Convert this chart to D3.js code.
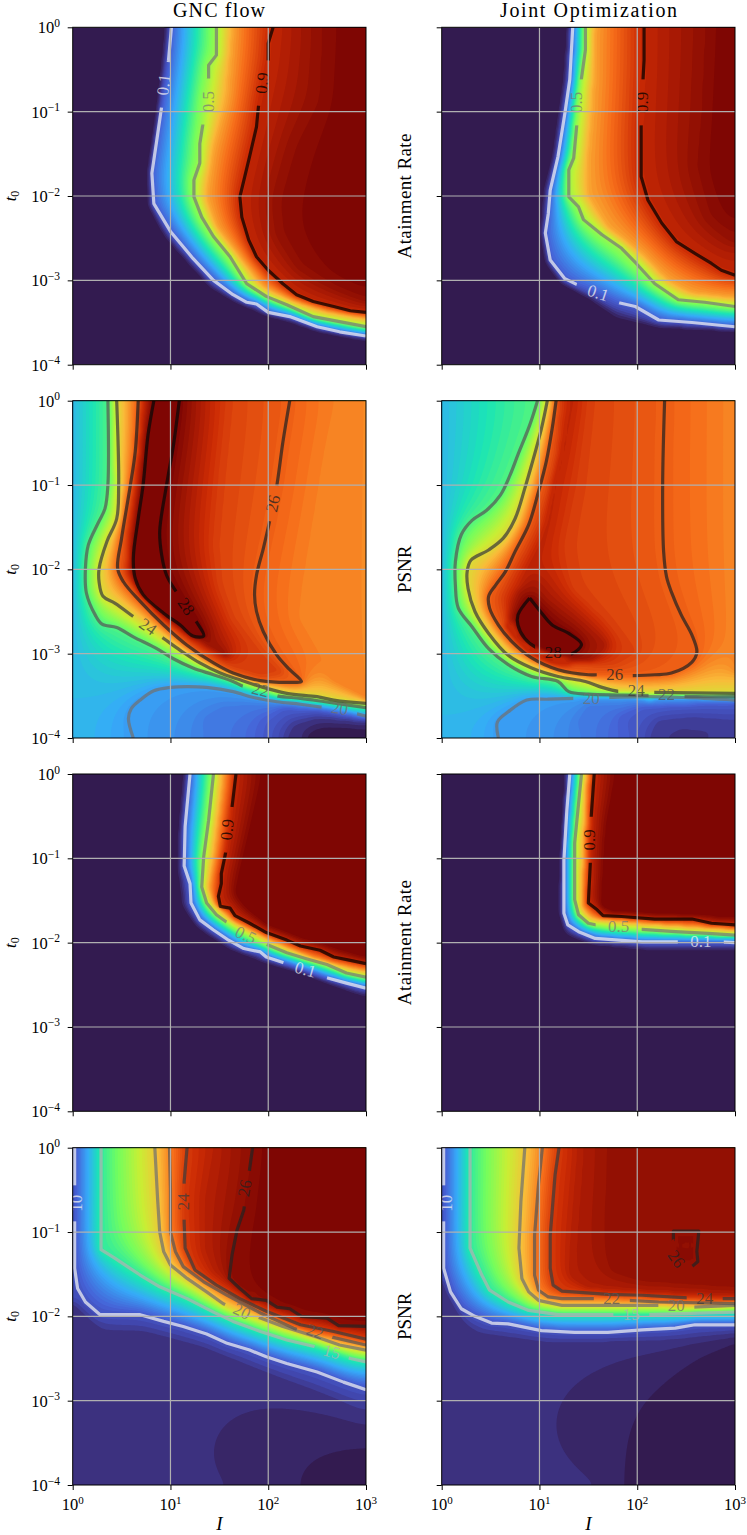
<!DOCTYPE html>
<html><head><meta charset="utf-8">
<script src="https://cdn.jsdelivr.net/npm/d3@7"></script>
<style>html,body{margin:0;padding:0;background:#fff;overflow:hidden}svg{display:block}text{font-family:"Liberation Serif",serif}</style>
</head><body><div id="chart"></div>
<script>
// ---------- values: exponents [log10 I, log10 t0] along each contour ----------
const columnTitles = ["GNC flow", "Joint Optimization"];
const rowMetrics = ["Atainment Rate", "PSNR", "Atainment Rate", "PSNR"];
const xTickExponents = [0, 1, 2, 3];
const yTickExponents = [0, -1, -2, -3, -4];
const turboStops = [0, 0.03, 0.06, 0.111, 0.222, 0.333, 0.444, 0.556, 0.667, 0.778, 0.889, 1];
const turboColors = ["#311644","#3b2d76","#4146ac","#4662d7","#36aaf9","#1ae4b6","#72fe5e","#c8ef34","#faba39","#f66b19","#cb2a04","#7a0403"];
const attainRange = [0, 1];
const psnrTopRange = [18, 28];
const psnrBottomRange = [8.5, 26.5];

const attainGncA = [
 [0.1,[[1.01,0],[.98,-.39],[.91,-.94],[.86,-1.34],[.81,-1.73],[.83,-2.09],[1,-2.42],[1.23,-2.74],[1.44,-3],[1.64,-3.17],[1.78,-3.26],[1.88,-3.28],[2,-3.38],[2.22,-3.43],[2.5,-3.55],[2.73,-3.61],[3,-3.66]]],
 [0.5,[[1.47,0],[1.47,-.33],[1.39,-.45],[1.39,-.6],[1.35,-.86],[1.33,-1.16],[1.3,-1.38],[1.3,-1.61],[1.24,-1.81],[1.24,-2.01],[1.32,-2.25],[1.44,-2.48],[1.61,-2.72],[1.78,-3.04],[1.98,-3.19],[2.19,-3.29],[2.46,-3.43],[2.73,-3.49],[3,-3.55]]],
 [0.9,[[2.05,0],[2,-.19],[2,-.39],[1.95,-.66],[1.9,-.94],[1.88,-1.18],[1.81,-1.53],[1.76,-1.77],[1.71,-2.01],[1.73,-2.25],[1.8,-2.52],[1.88,-2.72],[2,-2.88],[2.15,-3.04],[2.29,-3.17],[2.46,-3.25],[2.67,-3.31],[2.84,-3.36],[3,-3.38]]]
];
const attainGncAFill = [
 [0,[[.94,0],[.86,-.94],[.76,-1.73],[.77,-2.13],[.93,-2.48],[1.2,-2.84],[1.4,-3.09],[1.64,-3.25],[1.95,-3.41],[2.22,-3.5],[2.5,-3.61],[3,-3.72]]],
 [0.7,[[1.64,0],[1.58,-.86],[1.44,-1.45],[1.37,-2.01],[1.47,-2.36],[1.71,-2.72],[1.95,-3.08],[2.26,-3.25],[2.6,-3.37],[3,-3.45]]],
 [0.97,[[2.53,0],[2.5,-.86],[2.26,-1.38],[2.09,-2.05],[2.12,-2.44],[2.33,-2.84],[2.67,-3.07],[3,-3.23]]],
 [1,[[2.85,0],[2.8,-1],[2.6,-1.8],[2.5,-2.3],[2.7,-2.8],[3,-3]]]
];
const attainGncALabels = [[0.1,"0.1",.93,-.68,-83],[0.5,"0.5",1.39,-.88,-90],[0.9,"0.9",1.94,-.66,-84]];

const attainJointA = [
 [0.1,[[1.34,0],[1.31,-.62],[1.26,-1.02],[1.19,-1.53],[1.11,-1.93],[1.09,-2.21],[1.06,-2.44],[1.11,-2.76],[1.26,-2.98],[1.4,-3.06],[1.6,-3.15],[1.79,-3.26],[1.98,-3.31],[2.22,-3.47],[2.56,-3.5],[3,-3.55]]],
 [0.5,[[1.47,0],[1.47,-.27],[1.43,-.6],[1.4,-.9],[1.38,-1.18],[1.35,-1.55],[1.3,-1.69],[1.3,-2.01],[1.4,-2.13],[1.45,-2.28],[1.64,-2.46],[1.84,-2.62],[1.99,-2.8],[2.18,-3.04],[2.42,-3.23],[2.69,-3.26],[3,-3.31]]],
 [0.9,[[2.07,0],[2.07,-.39],[2.06,-.6],[2.05,-.9],[2.04,-1.18],[2.04,-1.77],[2.11,-2.05],[2.25,-2.32],[2.4,-2.54],[2.59,-2.68],[2.76,-2.8],[2.86,-2.88],[3,-2.94]]]
];
const attainJointAFill = [
 [0,[[1.28,0],[1.24,-.62],[1.19,-1.02],[1.13,-1.53],[1.04,-1.93],[1.01,-2.44],[1.06,-2.8],[1.21,-3.04],[1.5,-3.23],[1.77,-3.47],[2.22,-3.57],[3,-3.61]]],
 [0.7,[[1.57,0],[1.55,-.86],[1.5,-1.57],[1.5,-1.97],[1.7,-2.36],[2.05,-2.68],[2.32,-3],[2.56,-3.15],[3,-3.21]]],
 [0.97,[[2.68,0],[2.64,-1.02],[2.59,-1.65],[2.73,-2.25],[3,-2.52]]],
 [1,[[2.92,0],[2.88,-1],[2.85,-1.7],[3,-2.2]]]
];
const attainJointALabels = [[0.5,"0.5",1.38,-.89,-90],[0.9,"0.9",2.05,-.89,-90],[0.1,"0.1",1.6,-3.15,18]];

const psnrGncA = [
 [20,[[.62,-4],[.57,-3.77],[.6,-3.65],[.69,-3.55],[.83,-3.44],[1,-3.4],[1.17,-3.39],[1.37,-3.4],[1.64,-3.45],[1.85,-3.52],[2.09,-3.57],[2.33,-3.6],[2.58,-3.64],[2.73,-3.67],[3,-3.74]]],
 [22,[[.36,0],[.36,-1],[.33,-1.28],[.26,-1.45],[.16,-1.71],[.13,-1.99],[.14,-2.28],[.23,-2.54],[.3,-2.65],[.45,-2.69],[.62,-2.8],[.86,-2.94],[1.03,-3.06],[1.23,-3.17],[1.44,-3.25],[1.64,-3.33],[1.75,-3.39],[1.92,-3.44],[2.09,-3.5],[2.33,-3.53],[2.58,-3.57],[3,-3.64]]],
 [24,[[.45,0],[.47,-1],[.45,-1.4],[.35,-1.67],[.27,-1.99],[.27,-2.15],[.31,-2.32],[.43,-2.4],[.62,-2.56],[.77,-2.69],[.93,-2.82],[1.1,-2.96],[1.3,-3.11],[1.51,-3.23],[1.71,-3.31],[1.92,-3.39],[2.19,-3.47],[2.5,-3.51],[2.67,-3.55],[3,-3.59]]],
 [26,[[2.22,0],[2.15,-.49],[2.09,-.99],[2.05,-1.22],[2.01,-1.45],[1.95,-1.75],[1.88,-2.07],[1.86,-2.3],[1.88,-2.5],[1.95,-2.74],[2.09,-3.02],[2.22,-3.19],[2.34,-3.33],[2.26,-3.34],[1.92,-3.32],[1.64,-3.23],[1.44,-3.11],[1.17,-2.9],[.93,-2.66],[.69,-2.38],[.52,-2.15],[.46,-1.99],[.5,-1.63],[.59,-1],[.64,-.6],[.67,0]]],
 [28,[[.83,0],[.77,-.41],[.72,-1],[.67,-1.4],[.62,-1.87],[.64,-2.11],[.72,-2.3],[.93,-2.52],[1.1,-2.66],[1.23,-2.79],[1.34,-2.79],[1.27,-2.63],[1.16,-2.44],[1.05,-2.25],[.96,-2.07],[.91,-1.83],[.89,-1.55],[.96,-1],[1.03,-.53],[1.09,0]]]
];
const psnrGncAFill = [
 [20.5,[[0,0],[0,-4]]],
 [25.35,[[3,0],[3,-3.55]]],
 [25.5,[[2.67,0],[2.56,-.6],[2.33,-2.2],[2.29,-2.58],[2.67,-3.3],[3,-3.52]]],
 [26.5,[[1.61,0],[1.54,-.8],[1.47,-1.71],[1.51,-2.19],[1.64,-2.58],[1.92,-2.98],[2.12,-3.21],[1.92,-3.27],[1.61,-3.15],[1.3,-2.94],[.93,-2.61],[.69,-2.32],[.54,-2.07],[.55,-1.59],[.62,-1],[.69,0]]],
 [27.6,[[1.34,-2.86],[1.57,-3.02]]],
 [28.2,[[.94,0],[.86,-1],[.77,-1.79],[.86,-2.26],[1.17,-2.66]]],
 [19.5,[[1.37,-4],[1.34,-3.77],[1.54,-3.63],[1.92,-3.6],[2.33,-3.62],[3,-3.75]]],
 [19,[[1.92,-4],[1.95,-3.81],[2.15,-3.65],[2.5,-3.66],[3,-3.77]]],
 [18.4,[[2.19,-4],[2.26,-3.85],[2.5,-3.76],[3,-3.81]]],
 [18,[[2.43,-4],[2.53,-3.94],[2.73,-3.92],[3,-3.96]]]
];
const psnrGncALabels = [[28,"28",1.16,-2.44,55],[24,"24",.77,-2.68,35],[26,"26",2.05,-1.22,-78],[22,"22",1.92,-3.43,15],[20,"20",2.73,-3.65,8]];

const psnrJointA = [
 [20,[[.58,-4],[.57,-3.81],[.68,-3.69],[.87,-3.55],[1.09,-3.54],[1.36,-3.53],[1.7,-3.52],[2.13,-3.51],[2.47,-3.52],[3,-3.55]]],
 [22,[[.98,0],[.9,-.29],[.78,-.64],[.7,-.88],[.6,-1.12],[.46,-1.3],[.31,-1.42],[.2,-1.59],[.14,-1.91],[.14,-2.19],[.17,-2.46],[.31,-2.68],[.48,-2.94],[.68,-3.13],[.92,-3.27],[1.19,-3.33],[1.3,-3.45],[1.5,-3.48],[1.84,-3.49],[2.25,-3.5],[2.59,-3.51],[3,-3.51]]],
 [24,[[1.08,0],[1.02,-.33],[.92,-.76],[.85,-1.04],[.75,-1.4],[.63,-1.63],[.48,-1.77],[.3,-1.89],[.26,-2.03],[.27,-2.23],[.34,-2.5],[.48,-2.76],[.68,-3.02],[.92,-3.17],[1.19,-3.27],[1.47,-3.33],[1.64,-3.4],[1.82,-3.45],[2.01,-3.46],[2.17,-3.46],[3,-3.47]]],
 [26,[[2.28,0],[2.26,-1],[2.27,-1.79],[2.3,-2.09],[2.35,-2.27],[2.45,-2.54],[2.56,-2.78],[2.61,-2.98],[2.56,-3.1],[2.35,-3.23],[2.18,-3.25],[1.95,-3.26],[1.77,-3.26],[1.6,-3.25],[1.5,-3.25],[1.19,-3.19],[.92,-3.05],[.72,-2.86],[.58,-2.66],[.49,-2.46],[.48,-2.32],[.55,-2.19],[.65,-2.03],[.75,-1.79],[.89,-1.47],[.99,-1.08],[1.07,-.72],[1.13,-.33],[1.17,0]]],
 [28,[[.9,-2.34],[.78,-2.54],[.78,-2.66],[.85,-2.82],[.97,-2.93],[1.16,-3],[1.33,-3],[1.43,-2.89],[1.3,-2.76],[1.13,-2.66],[1.01,-2.5],[.9,-2.34]]]
];
const psnrJointAFill = [
 [20.5,[[0,0],[0,-4]]],
 [25.4,[[3,0],[3,-3.2]]],
 [27.1,[[1.33,0],[1.23,-.6],[1.14,-1],[1.09,-1.4],[1.02,-1.68],[.82,-2.15],[.75,-2.34]]],
 [26.5,[[1.53,0],[1.43,-1],[1.3,-1.71],[1.36,-2.19],[1.7,-2.58],[1.98,-2.98],[1.77,-3.13],[1.36,-3.11],[1.09,-3.02],[.82,-2.86],[.65,-2.58],[.61,-2.34],[.68,-2.15],[.85,-1.79],[.99,-1.47],[1.09,-1.08],[1.18,-.6],[1.21,0]]],
 [27.4,[[.75,-2.38],[.68,-2.66],[.85,-2.94],[1.13,-3.09],[1.53,-3.09],[1.67,-2.9],[1.36,-2.58],[1.09,-2.34],[.95,-2.15],[.78,-2.26],[.75,-2.38]]],
 [28.3,[[.9,-2.6],[1,-2.75],[1.15,-2.85]]],
 [19.5,[[1.47,-4],[1.4,-3.81],[1.5,-3.61],[3,-3.57]]],
 [19,[[1.91,-4],[1.84,-3.77],[2.05,-3.63],[3,-3.58]]],
 [18.5,[[2.15,-4],[2.22,-3.81],[2.56,-3.77],[3,-3.81]]],
 [18.4,[[2.32,-4],[2.45,-3.91],[2.73,-3.95]]]
];
const psnrJointALabels = [[28,"28",1.14,-2.98,0],[26,"26",1.77,-3.25,0],[24,"24",1.99,-3.44,0],[22,"22",2.3,-3.48,0],[20,"20",1.53,-3.53,0]];

const attainGncB = [
 [0.1,[[1.2,0],[1.15,-.62],[1.14,-1.09],[1.2,-1.3],[1.21,-1.53],[1.3,-1.73],[1.44,-1.85],[1.58,-1.96],[1.75,-2.07],[1.92,-2.11],[1.98,-2.17],[2.19,-2.25],[2.39,-2.33],[2.58,-2.41],[2.8,-2.48],[3,-2.54]]],
 [0.5,[[1.44,0],[1.39,-.55],[1.34,-.98],[1.32,-1.34],[1.37,-1.53],[1.47,-1.67],[1.59,-1.77],[1.78,-1.91],[1.98,-2.02],[2.19,-2.12],[2.39,-2.19],[2.6,-2.26],[2.8,-2.36],[3,-2.41]]],
 [0.9,[[1.67,0],[1.63,-.39],[1.6,-.66],[1.56,-.96],[1.52,-1.18],[1.52,-1.3],[1.49,-1.45],[1.51,-1.57],[1.61,-1.59],[1.66,-1.68],[1.81,-1.77],[1.98,-1.88],[2.19,-1.97],[2.33,-2.04],[2.53,-2.09],[2.67,-2.17],[2.84,-2.21],[3,-2.25]]]
];
const attainGncBFill = [
 [0,[[1.13,0],[1.08,-.62],[1.07,-1.14],[1.11,-1.57],[1.27,-1.83],[1.58,-2.07],[1.92,-2.23],[2.33,-2.36],[2.67,-2.52],[3,-2.66]]],
 [0.7,[[1.54,0],[1.44,-1.02],[1.39,-1.34],[1.44,-1.53],[1.64,-1.75],[2.05,-1.99],[2.49,-2.21],[3,-2.34]]],
 [1,[[1.98,0],[1.88,-.47],[1.78,-.94],[1.68,-1.41],[1.78,-1.57],[1.98,-1.77],[2.33,-1.93],[3,-2.17]]]
];
const attainGncBLabels = [[0.9,"0.9",1.58,-.66,-85],[0.5,"0.5",1.77,-1.91,25],[0.1,"0.1",2.38,-2.32,15]];

const attainJointB = [
 [0.1,[[1.31,0],[1.28,-.43],[1.25,-1.02],[1.25,-1.65],[1.29,-1.79],[1.4,-1.87],[1.57,-1.95],[1.81,-1.97],[2.05,-1.99],[2.45,-1.99],[2.85,-1.99],[3,-2]]],
 [0.5,[[1.43,0],[1.4,-.35],[1.36,-.82],[1.36,-1.49],[1.4,-1.67],[1.5,-1.77],[1.62,-1.8],[1.81,-1.82],[2.01,-1.84],[2.39,-1.87],[2.73,-1.89],[3,-1.91]]],
 [0.9,[[1.56,0],[1.53,-.49],[1.52,-.78],[1.52,-1.06],[1.5,-1.53],[1.59,-1.61],[1.65,-1.68],[1.84,-1.69],[2.18,-1.72],[2.56,-1.72],[2.76,-1.77],[3,-1.79]]]
];
const attainJointBFill = [
 [0,[[1.26,0],[1.21,-1.02],[1.19,-1.61],[1.26,-1.91],[1.53,-2.03],[2.05,-2.09],[3,-2.09]]],
 [0.7,[[1.48,0],[1.45,-1.02],[1.43,-1.57],[1.53,-1.71],[2.05,-1.77],[3,-1.85]]],
 [1,[[1.81,0],[1.7,-.62],[1.64,-1.57],[1.77,-1.63],[3,-1.69]]]
];
const attainJointBLabels = [[0.9,"0.9",1.51,-.78,-90],[0.5,"0.5",1.81,-1.81,0],[0.1,"0.1",2.65,-1.98,0]];

const psnrGncB = [
 [10,[[.02,0],[.02,-.4],[.02,-.89],[.02,-1.43],[.05,-1.67],[.13,-1.83],[.28,-1.98],[.69,-1.98],[.93,-2.06],[1.13,-2.12],[1.37,-2.21],[1.58,-2.32],[1.81,-2.4],[1.98,-2.48],[2.19,-2.56],[2.5,-2.66],[2.77,-2.78],[3,-2.87]]],
 [15,[[.29,0],[.29,-1.21],[.43,-1.31],[.69,-1.51],[.89,-1.65],[1.17,-1.79],[1.44,-1.95],[1.64,-2.06],[1.92,-2.18],[2.19,-2.28],[2.48,-2.36],[2.67,-2.43],[2.84,-2.5],[3,-2.54]]],
 [20,[[.84,0],[.87,-.64],[.89,-1],[.93,-1.23],[1,-1.39],[1.17,-1.55],[1.37,-1.71],[1.54,-1.85],[1.73,-1.94],[1.92,-2.02],[2.15,-2.12],[2.48,-2.24],[2.73,-2.34],[3,-2.4]]],
 [22,[[.99,0],[1,-.5],[1,-1],[1.05,-1.23],[1.13,-1.41],[1.34,-1.59],[1.58,-1.75],[1.92,-1.96],[2.26,-2.14],[2.46,-2.22],[2.63,-2.24],[3,-2.34]]],
 [24,[[1.17,0],[1.14,-.4],[1.14,-.89],[1.15,-1.19],[1.25,-1.45],[1.47,-1.63],[1.71,-1.79],[1.98,-1.94],[2.33,-2.1],[2.67,-2.18],[3,-2.27]]],
 [26,[[1.84,0],[1.81,-.25],[1.78,-.5],[1.75,-.74],[1.68,-.98],[1.63,-1.27],[1.6,-1.55],[1.71,-1.67],[1.83,-1.79],[1.98,-1.81],[2.09,-1.89],[2.22,-1.91],[2.34,-2],[2.6,-2.02],[2.72,-2.11],[3,-2.12]]]
];
const psnrGncBFill = [
 [9.1,[[0,-1.87],[.28,-2.2],[.69,-2.2],[1.3,-2.38],[1.98,-2.7],[2.67,-3.01],[3,-3.21]]],
 [9.1,[[0,-4],[1.5,-4]]],
 [8.8,[[1.68,-4],[1.85,-3.72],[2.33,-3.53],[3,-3.47]]],
 [8.5,[[2.7,-4],[3,-3.92]]],
 [25,[[1.44,0],[1.34,-.64],[1.34,-1.19],[1.44,-1.47],[1.71,-1.71],[2.01,-1.88],[2.33,-2.02],[3,-2.18]]],
 [26.5,[[2.05,0],[1.98,-1.04],[1.95,-1.59],[2.19,-1.79],[2.67,-1.94],[3,-2]]]
];
const psnrGncBLabels = [[10,"10",.04,-.66,-90],[24,"24",1.13,-.64,-90],[26,"26",1.76,-.48,-80],[20,"20",1.73,-1.94,25],[22,"22",2.48,-2.18,20],[15,"15",2.65,-2.42,15]];

const psnrJointB = [
 [10,[[.02,0],[.02,-.42],[.02,-.9],[.02,-1.43],[.09,-1.71],[.2,-1.91],[.34,-2],[.51,-2.08],[.68,-2.09],[1.02,-2.17],[1.36,-2.19],[1.7,-2.19],[2.05,-2.16],[2.39,-2.14],[2.59,-2.1],[3,-2.1]]],
 [15,[[.29,0],[.29,-1.19],[.41,-1.51],[.49,-1.69],[.68,-1.83],[.89,-1.93],[1.19,-1.98],[1.79,-1.98],[2.11,-1.98],[3,-1.95]]],
 [20,[[.85,0],[.81,-.64],[.79,-1.19],[.82,-1.55],[.89,-1.71],[.99,-1.81],[1.23,-1.87],[1.7,-1.87],[2.22,-1.87],[2.57,-1.89],[3,-1.87]]],
 [22,[[1.03,0],[.99,-.44],[.95,-1.04],[.95,-1.51],[.99,-1.69],[1.09,-1.77],[1.23,-1.79],[1.57,-1.79],[1.91,-1.81],[2.22,-1.83],[3,-1.85]]],
 [24,[[1.2,0],[1.16,-.32],[1.11,-1.04],[1.11,-1.43],[1.14,-1.63],[1.23,-1.7],[1.7,-1.74],[2.05,-1.75],[2.52,-1.78],[2.86,-1.79],[3,-1.79]]],
 [26,[[2.37,-1.09],[2.37,-.99],[2.63,-.99],[2.61,-1.23],[2.62,-1.35],[2.56,-1.41],[2.39,-1.37],[2.34,-1.26],[2.37,-1.09]]]
];
const psnrJointBFill = [
 [9.1,[[0,-1.59],[.2,-2.06],[.34,-2.22],[1.02,-2.32],[1.7,-2.32],[2.39,-2.3],[3,-2.22]]],
 [9.1,[[0,-4],[1.5,-4]]],
 [8.8,[[1.68,-4],[1.72,-3.29],[1.91,-2.93],[2.32,-2.6],[2.6,-2.42],[3,-2.3]]],
 [8.6,[[2.35,-4],[2.39,-3.21],[2.56,-2.93],[3,-2.38]]],
 [8.5,[[2.81,-4],[2.85,-3.21],[3,-3.01]]],
 [25.2,[[1.43,0],[1.36,-1.04],[1.33,-1.51],[1.5,-1.65],[2.05,-1.7],[3,-1.75]]],
 [25.9,[[1.77,0],[1.74,-1.04],[1.76,-1.43],[2.05,-1.55],[3,-1.63]]]
];
const psnrJointBLabels = [[10,"10",.05,-.66,-90],[22,"22",1.74,-1.79,0],[20,"20",2.4,-1.87,0],[24,"24",2.69,-1.79,0],[15,"15",1.94,-1.98,0],[26,"26",2.4,-1.32,55]];

// ---------- layout ----------
const W = 747, H = 1535;
const colX = [[72.7, 366], [441.7, 735]];
const rowY = [[27.3, 364.7], [400.7, 738], [774, 1111.3], [1147.7, 1485]];
const panels = [
 {r:0,c:0,lines:attainGncA,fill:attainGncAFill,labels:attainGncALabels,range:attainRange,smooth:false},
 {r:0,c:1,lines:attainJointA,fill:attainJointAFill,labels:attainJointALabels,range:attainRange,smooth:false},
 {r:1,c:0,lines:psnrGncA,fill:psnrGncAFill,labels:psnrGncALabels,range:psnrTopRange,smooth:true},
 {r:1,c:1,lines:psnrJointA,fill:psnrJointAFill,labels:psnrJointALabels,range:psnrTopRange,smooth:true},
 {r:2,c:0,lines:attainGncB,fill:attainGncBFill,labels:attainGncBLabels,range:attainRange,smooth:false},
 {r:2,c:1,lines:attainJointB,fill:attainJointBFill,labels:attainJointBLabels,range:attainRange,smooth:false},
 {r:3,c:0,lines:psnrGncB,fill:psnrGncBFill,labels:psnrGncBLabels,range:psnrBottomRange,smooth:false},
 {r:3,c:1,lines:psnrJointB,fill:psnrJointBFill,labels:psnrJointBLabels,range:psnrBottomRange,smooth:false}
];
const color = d3.scaleLinear().domain(turboStops).range(turboColors).clamp(true);
const attainGray = d3.scaleLinear().domain([0.1,0.9]).range([0.95,0]);
const psnrGray = d3.scaleLinear().domain([10,28]).range([0.95,0.03]);
const lineColor = (p,l)=>{const g=(p.range===attainRange?attainGray:psnrGray)(l);const v=Math.round(g*255);return d3.rgb(v,v,v).formatHex();};

// Field between the read contours: grid relaxation pinned to the contour values
const NX = 197, NY = 226;
function fieldFrom(curves){
  const u = new Float64Array(NX*NY), fixed = new Uint8Array(NX*NY);
  const put=(x,y,v)=>{const i=Math.max(0,Math.min(NX-1,Math.round(x/3*(NX-1))));const j=Math.max(0,Math.min(NY-1,Math.round(-y/4*(NY-1))));u[j*NX+i]=v;fixed[j*NX+i]=1;};
  for(const [v,pts] of curves){
    for(let k=0;k<pts.length-1;k++){
      const [a,b]=pts[k],[c,d]=pts[k+1];
      const n=Math.ceil(Math.hypot((c-a)/3*NX,(d-b)/4*NY)*2)+1;
      for(let s=0;s<=n;s++) put(a+(c-a)*s/n,b+(d-b)*s/n,v);
    }
  }
  // start every free cell from its nearest pinned cell, so open regions settle quickly
  const seen=Uint8Array.from(fixed);
  let front=[];
  for(let q=0;q<NX*NY;q++) if(fixed[q]) front.push(q);
  while(front.length){
    const next=[];
    for(const q of front){
      const i=q%NX;
      const nb=[i>0?q-1:-1,i<NX-1?q+1:-1,q>=NX?q-NX:-1,q<NX*(NY-1)?q+NX:-1];
      for(const w of nb) if(w>=0&&!seen[w]){seen[w]=1;u[w]=u[q];next.push(w);}
    }
    front=next;
  }
  const om=1.9;
  for(let it=0;it<420;it++){
    for(let j=0;j<NY;j++){
      const up=j>0?-NX:NX, dn=j<NY-1?NX:-NX;
      for(let i=0;i<NX;i++){
        const q=j*NX+i; if(fixed[q]) continue;
        const l=i>0?u[q-1]:u[q+1], r=i<NX-1?u[q+1]:u[q-1];
        u[q]+=om*((l+r+u[q+up]+u[q+dn])/4-u[q]);
      }
    }
  }
  return u;
}

const svg = d3.select("#chart").append("svg").attr("width",W).attr("height",H).attr("viewBox",`0 0 ${W} ${H}`);
const defs = svg.append("defs");
const NT = 72;
const thresholds = d3.range(1,NT).map(i=>i/NT);

panels.forEach((p,idx)=>{
  const [x0,x1]=colX[p.c],[y0,y1]=rowY[p.r];
  const xs=d3.scaleLog().domain([1,1000]).range([x0,x1]);
  const ys=d3.scaleLog().domain([1e-4,1]).range([y1,y0]);
  const g=svg.append("g");
  const clipId="clip"+idx;
  defs.append("clipPath").attr("id",clipId).append("rect").attr("x",x0).attr("y",y0).attr("width",x1-x0).attr("height",y1-y0);
  const plot=g.append("g").attr("clip-path",`url(#${clipId})`);

  // fill
  const toT=d3.scaleLinear().domain(p.range).range([0,1]).clamp(true);
  const raw=fieldFrom(p.fill.concat(p.lines));
  const tv=Float64Array.from(raw,v=>toT(v));
  d3.blur2({data:tv,width:NX,height:NY},1);
  const conts=d3.contours().size([NX,NY]).thresholds(thresholds).smooth(true)(tv);
  const proj=d3.geoTransform({point(cx,cy){
    const lx=Math.max(0,Math.min(3,(cx-.5)/(NX-1)*3));
    const ly=Math.max(-4,Math.min(0,-(cy-.5)/(NY-1)*4));
    this.stream.point(xs(10**lx),ys(10**ly));
  }});
  const path=d3.geoPath(proj);
  plot.append("rect").attr("x",x0).attr("y",y0).attr("width",x1-x0).attr("height",y1-y0).attr("fill",color(0.5/NT));
  plot.selectAll("path.band").data(conts).join("path").attr("class","band")
    .attr("d",path).attr("fill",d=>color(d.value+0.5/NT));

  // contour lines with label gaps
  const lineGen=d3.line().x(d=>xs(10**d[0])).y(d=>ys(10**d[1])).curve(p.smooth?d3.curveCatmullRom.alpha(0.5):d3.curveLinear);
  p.lines.forEach(([lev,pts],k)=>{
    const mid=`m${idx}_${k}`;
    const m=defs.append("mask").attr("id",mid).attr("maskUnits","userSpaceOnUse")
      .attr("x",x0-5).attr("y",y0-5).attr("width",x1-x0+10).attr("height",y1-y0+10);
    m.append("rect").attr("x",x0-5).attr("y",y0-5).attr("width",x1-x0+10).attr("height",y1-y0+10).attr("fill","#fff");
    p.labels.filter(l=>l[0]===lev).forEach(l=>{
      const gap=l[1].length>2?46:36;
      m.append("rect").attr("x",-gap/2).attr("y",-9).attr("width",gap).attr("height",18).attr("fill","#000")
        .attr("transform",`translate(${xs(10**l[2])},${ys(10**l[3])}) rotate(${l[4]})`);
    });
    plot.append("path").attr("d",lineGen(pts)).attr("fill","none")
      .attr("stroke",lineColor(p,lev)).attr("stroke-opacity",.72).attr("stroke-width",3.2)
      .attr("stroke-linejoin","round").attr("mask",`url(#${mid})`);
  });
  p.labels.forEach(l=>{
    plot.append("text").text(l[1]).attr("text-anchor","middle").attr("dy","0.33em")
      .attr("font-size",17).attr("fill",lineColor(p,l[0])).attr("fill-opacity",.75)
      .attr("transform",`translate(${xs(10**l[2])},${ys(10**l[3])}) rotate(${l[4]})`);
  });

  // grid
  xTickExponents.slice(1,-1).forEach(e=>plot.append("line").attr("x1",xs(10**e)).attr("x2",xs(10**e)).attr("y1",y0).attr("y2",y1).attr("stroke","#b0b0b0").attr("stroke-width",1.2));
  yTickExponents.slice(1,-1).forEach(e=>plot.append("line").attr("y1",ys(10**e)).attr("y2",ys(10**e)).attr("x1",x0).attr("x2",x1).attr("stroke","#b0b0b0").attr("stroke-width",1.2));

  // frame + ticks
  const ax=d3.axisBottom(xs).tickValues(xTickExponents.map(e=>10**e)).tickFormat("").tickSize(5).tickSizeOuter(0);
  const ay=d3.axisLeft(ys).tickValues(yTickExponents.map(e=>10**e)).tickFormat("").tickSize(5).tickSizeOuter(0);
  const gx=g.append("g").attr("transform",`translate(0,${y1})`).call(ax);
  const gy=g.append("g").attr("transform",`translate(${x0},0)`).call(ay);
  gx.selectAll(".domain").remove(); gy.selectAll(".domain").remove();
  gx.selectAll("line").attr("stroke","#000").attr("stroke-width",1);
  gy.selectAll("line").attr("stroke","#000").attr("stroke-width",1);
  g.append("rect").attr("x",x0).attr("y",y0).attr("width",x1-x0).attr("height",y1-y0).attr("fill","none").attr("stroke","#000").attr("stroke-width",1);

  const expo=e=>e<0?"\u2212"+(-e):""+e;
  if(p.c===0){
    yTickExponents.forEach(e=>{
      const t=g.append("text").attr("x",60).attr("y",ys(10**e)+6).attr("text-anchor","end").attr("font-size",16.5);
      t.append("tspan").text("10");
      t.append("tspan").text(expo(e)).attr("font-size",11.5).attr("dy",-6.5);
    });
    const ty=g.append("text").attr("transform",`translate(15.5,${(y0+y1)/2}) rotate(-90)`).attr("text-anchor","middle").attr("font-size",17);
    ty.append("tspan").text("t").attr("font-style","italic");
    ty.append("tspan").text("0").attr("font-size",12).attr("dy",3);
  } else {
    const t=g.append("text").attr("transform",`translate(411,${(y0+y1)/2}) rotate(-90)`).attr("text-anchor","middle").attr("font-size",19).text(rowMetrics[p.r]);
    if(rowMetrics[p.r].length>6) t.attr("textLength",125).attr("lengthAdjust","spacing");
  }
  if(p.r===0){
    svg.append("text").attr("x",p.c===0?219:588.5).attr("y",16.5).attr("text-anchor","middle").attr("font-size",20)
      .attr("textLength",p.c===0?92:177).attr("lengthAdjust","spacing").text(columnTitles[p.c]);
  }
  if(p.r===3){
    xTickExponents.forEach(e=>{
      const t=g.append("text").attr("x",xs(10**e)).attr("y",y1+25).attr("text-anchor","middle").attr("font-size",16.5);
      t.append("tspan").text("10");
      t.append("tspan").text(expo(e)).attr("font-size",11).attr("dy",-6.5);
    });
    g.append("text").attr("x",(x0+x1)/2).attr("y",1530).attr("text-anchor","middle").attr("font-size",19).attr("font-style","italic").text("I");
  }
});
</script></body></html>
